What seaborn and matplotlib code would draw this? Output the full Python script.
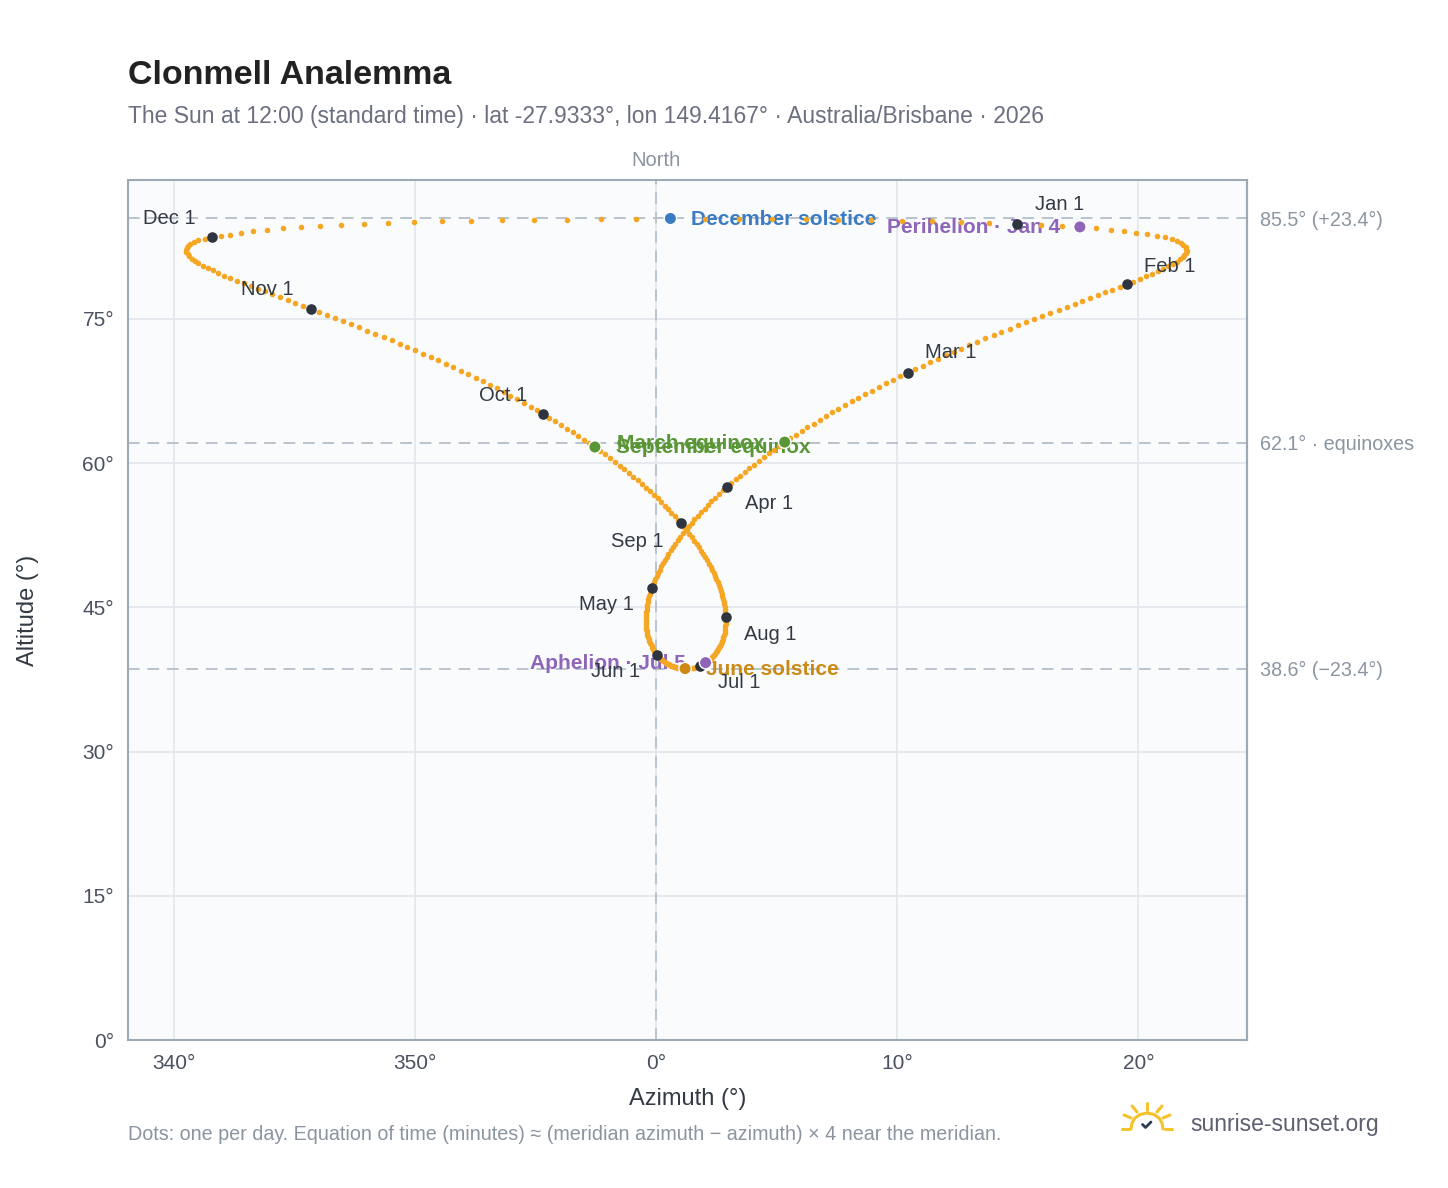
import pandas as pd
import matplotlib
matplotlib.use("Agg")
import matplotlib.pyplot as plt
import seaborn as sns

# Sun position at 12:00 standard time, one value per day.
# Azimuth as degrees east (+) / west (-) of north, altitude in degrees.
az_jan = [14.97, 15.97, 16.82, 17.57, 18.24, 18.86, 19.41, 19.91, 20.37, 20.77, 21.11, 21.38, 21.59, 21.75, 21.86, 21.95,
          21.99, 22.00, 21.97, 21.90, 21.83, 21.73, 21.60, 21.44, 21.24, 21.03, 20.81, 20.57, 20.32, 20.06, 19.79]
alt_jan = [84.92, 84.82, 84.70, 84.57, 84.43, 84.29, 84.14, 83.98, 83.82, 83.66, 83.49, 83.31, 83.12, 82.93, 82.73, 82.52,
           82.31, 82.10, 81.88, 81.66, 81.43, 81.20, 80.96, 80.72, 80.47, 80.22, 79.96, 79.70, 79.43, 79.16, 78.88]
az_feb = [19.51, 19.22, 18.92, 18.62, 18.31, 17.99, 17.67, 17.35, 17.03, 16.69, 16.35, 16.01, 15.68, 15.34, 15.00, 14.66,
          14.32, 13.99, 13.65, 13.32, 12.99, 12.66, 12.33, 12.00, 11.69, 11.37, 11.06, 10.74]
alt_feb = [78.60, 78.32, 78.04, 77.75, 77.45, 77.15, 76.85, 76.55, 76.25, 75.93, 75.61, 75.29, 74.97, 74.65, 74.32, 73.99,
           73.65, 73.31, 72.97, 72.62, 72.27, 71.92, 71.57, 71.22, 70.86, 70.50, 70.14, 69.77]
az_mar = [10.43, 10.13, 9.83, 9.53, 9.24, 8.94, 8.66, 8.38, 8.11, 7.83, 7.55, 7.29, 7.04, 6.78, 6.53, 6.27,
          6.03, 5.80, 5.56, 5.33, 5.09, 4.88, 4.67, 4.46, 4.25, 4.04, 3.85, 3.67, 3.48, 3.30, 3.11]
alt_mar = [69.41, 69.04, 68.67, 68.29, 67.92, 67.55, 67.17, 66.79, 66.42, 66.04, 65.66, 65.28, 64.89, 64.51, 64.12, 63.74,
           63.35, 62.96, 62.58, 62.19, 61.80, 61.41, 61.02, 60.63, 60.24, 59.85, 59.46, 59.08, 58.69, 58.31, 57.92]
az_apr = [2.95, 2.78, 2.62, 2.45, 2.29, 2.15, 2.01, 1.87, 1.73, 1.59, 1.47, 1.35, 1.24, 1.12, 1.00,
          0.90, 0.80, 0.71, 0.61, 0.51, 0.44, 0.36, 0.29, 0.21, 0.14, 0.08, 0.03, -0.03, -0.08, -0.14]
alt_apr = [57.54, 57.16, 56.78, 56.40, 56.02, 55.65, 55.27, 54.90, 54.52, 54.15, 53.79, 53.43, 53.06, 52.70, 52.34,
           51.99, 51.64, 51.29, 50.94, 50.59, 50.26, 49.92, 49.59, 49.25, 48.92, 48.60, 48.28, 47.97, 47.65, 47.33]
az_may = [-0.18, -0.22, -0.25, -0.29, -0.32, -0.34, -0.36, -0.38, -0.40, -0.41, -0.42, -0.43, -0.43, -0.43, -0.43, -0.42,
          -0.41, -0.39, -0.38, -0.36, -0.34, -0.31, -0.28, -0.26, -0.23, -0.19, -0.16, -0.12, -0.09, -0.05, 0.00]
alt_may = [47.03, 46.73, 46.44, 46.14, 45.84, 45.57, 45.29, 45.02, 44.74, 44.47, 44.22, 43.97, 43.72, 43.47, 43.22, 43.00,
           42.78, 42.55, 42.33, 42.11, 41.92, 41.72, 41.53, 41.33, 41.14, 40.97, 40.81, 40.64, 40.48, 40.31, 40.18]
az_jun = [0.05, 0.09, 0.14, 0.19, 0.24, 0.30, 0.35, 0.41, 0.46, 0.52, 0.58, 0.63, 0.69, 0.75, 0.81,
          0.88, 0.94, 1.01, 1.07, 1.13, 1.20, 1.26, 1.33, 1.39, 1.45, 1.51, 1.58, 1.64, 1.70, 1.76]
alt_jun = [40.05, 39.91, 39.78, 39.65, 39.55, 39.45, 39.35, 39.25, 39.15, 39.08, 39.01, 38.94, 38.88, 38.81, 38.77,
           38.73, 38.70, 38.67, 38.64, 38.63, 38.63, 38.63, 38.64, 38.65, 38.67, 38.70, 38.73, 38.77, 38.82, 38.87]
az_jul = [1.82, 1.88, 1.94, 2.00, 2.05, 2.11, 2.16, 2.22, 2.27, 2.32, 2.36, 2.41, 2.45, 2.50, 2.54, 2.57,
          2.61, 2.64, 2.68, 2.71, 2.74, 2.76, 2.79, 2.82, 2.84, 2.85, 2.86, 2.87, 2.88, 2.89, 2.89]
alt_jul = [38.93, 39.00, 39.08, 39.16, 39.25, 39.35, 39.45, 39.56, 39.67, 39.80, 39.93, 40.07, 40.20, 40.34, 40.50, 40.67,
           40.83, 41.00, 41.16, 41.35, 41.55, 41.74, 41.94, 42.13, 42.35, 42.57, 42.80, 43.02, 43.24, 43.49, 43.74]
az_aug = [2.89, 2.88, 2.87, 2.86, 2.84, 2.82, 2.80, 2.78, 2.75, 2.71, 2.68, 2.64, 2.60, 2.55, 2.49, 2.44,
          2.38, 2.33, 2.26, 2.18, 2.11, 2.03, 1.96, 1.87, 1.77, 1.68, 1.58, 1.49, 1.37, 1.26, 1.14]
alt_aug = [43.98, 44.23, 44.48, 44.75, 45.02, 45.30, 45.57, 45.85, 46.15, 46.44, 46.74, 47.03, 47.33, 47.64, 47.96, 48.27,
           48.59, 48.90, 49.23, 49.56, 49.90, 50.23, 50.56, 50.91, 51.26, 51.60, 51.95, 52.30, 52.66, 53.02, 53.38]
az_sep = [1.03, 0.91, 0.77, 0.63, 0.50, 0.36, 0.22, 0.06, -0.10, -0.27, -0.43, -0.59, -0.77, -0.95, -1.14,
          -1.32, -1.50, -1.71, -1.92, -2.12, -2.33, -2.54, -2.77, -3.00, -3.22, -3.45, -3.68, -3.93, -4.18, -4.43]
alt_sep = [53.74, 54.10, 54.47, 54.84, 55.21, 55.58, 55.95, 56.33, 56.71, 57.08, 57.46, 57.84, 58.22, 58.60, 58.99,
           59.37, 59.75, 60.14, 60.52, 60.91, 61.29, 61.68, 62.06, 62.44, 62.83, 63.21, 63.59, 63.97, 64.36, 64.74]
az_oct = [-4.69, -4.94, -5.21, -5.49, -5.76, -6.04, -6.31, -6.61, -6.90, -7.20, -7.49, -7.79, -8.10, -8.41, -8.72, -9.03,
          -9.34, -9.67, -9.99, -10.32, -10.64, -10.97, -11.30, -11.64, -11.97, -12.31, -12.64, -12.98, -13.31, -13.65, -13.98]
alt_oct = [65.13, 65.51, 65.89, 66.27, 66.64, 67.02, 67.40, 67.77, 68.14, 68.51, 68.88, 69.25, 69.61, 69.97, 70.33, 70.69,
           71.05, 71.40, 71.75, 72.09, 72.44, 72.79, 73.12, 73.46, 73.79, 74.13, 74.46, 74.78, 75.11, 75.43, 75.75]
az_nov = [-14.32, -14.64, -14.96, -15.28, -15.60, -15.92, -16.23, -16.53, -16.82, -17.11, -17.39, -17.66, -17.91, -18.15, -18.38,
          -18.59, -18.80, -18.98, -19.13, -19.26, -19.36, -19.43, -19.48, -19.50, -19.47, -19.41, -19.31, -19.17, -18.99, -18.72]
alt_nov = [76.07, 76.37, 76.67, 76.97, 77.27, 77.57, 77.86, 78.14, 78.43, 78.71, 78.99, 79.25, 79.51, 79.78, 80.04,
           80.30, 80.54, 80.78, 81.02, 81.26, 81.50, 81.72, 81.94, 82.15, 82.37, 82.58, 82.78, 82.97, 83.16, 83.35]
az_dec = [-18.40, -18.05, -17.68, -17.21, -16.71, -16.12, -15.47, -14.73, -13.93, -13.06, -12.13, -11.11, -10.03, -8.88, -7.67, -6.40,
          -5.07, -3.68, -2.27, -0.84, 0.59, 2.01, 3.42, 4.82, 6.20, 7.56, 8.89, 10.18, 11.44, 12.65, 13.80]
alt_dec = [83.47, 83.61, 83.78, 83.96, 84.10, 84.27, 84.41, 84.54, 84.65, 84.79, 84.90, 85.00, 85.06, 85.14, 85.21, 85.27,
           85.31, 85.34, 85.37, 85.42, 85.45, 85.44, 85.43, 85.41, 85.38, 85.34, 85.29, 85.22, 85.15, 85.06, 84.97]

month_names = ["Jan", "Feb", "Mar", "Apr", "May", "Jun", "Jul", "Aug", "Sep", "Oct", "Nov", "Dec"]
az_by_month = [az_jan, az_feb, az_mar, az_apr, az_may, az_jun, az_jul, az_aug, az_sep, az_oct, az_nov, az_dec]
alt_by_month = [alt_jan, alt_feb, alt_mar, alt_apr, alt_may, alt_jun, alt_jul, alt_aug, alt_sep, alt_oct, alt_nov, alt_dec]

# events marked on the curve
event_names = ["December solstice", "Perihelion · Jan 4", "March equinox",
               "September equinox", "Aphelion · Jul 5", "June solstice"]
event_month = ["Dec", "Jan", "Mar", "Sep", "Jul", "Jun"]
event_day = [21, 4, 20, 22, 5, 21]

# reference altitudes on the right edge
ref_alt = [85.5, 62.1, 38.6]
ref_labels = ["85.5° (+23.4°)", "62.1° · equinoxes", "38.6° (\u221223.4°)"]

az_ticks = [-20, -10, 0, 10, 20]
az_tick_labels = ["340°", "350°", "0°", "10°", "20°"]
alt_ticks = [0, 15, 30, 45, 60, 75]

# label placement (pixels from the marker)
month_dx = [18, 17, 17, 18, -18, -17, 18, 18, -17, -16, -17, -17]
month_dy = [19, 18, 20, -17, -17, -17, -17, -17, -18, 18, 19, 19]
event_side = ["right", "left", "left", "right", "left", "right"]
event_colors = ["#3a7bc4", "#8e65b9", "#5a9636", "#5a9636", "#8e65b9", "#cc8a15"]

rows = []
for name, azs, alts in zip(month_names, az_by_month, alt_by_month):
    for day, (a, h) in enumerate(zip(azs, alts), start=1):
        rows.append({"month": name, "day": day, "az": a, "alt": h})
days = pd.DataFrame(rows)
firsts = days[days["day"] == 1]

events = []
for name, m, d in zip(event_names, event_month, event_day):
    hit = days[(days["month"] == m) & (days["day"] == d)].iloc[0]
    events.append({"event": name, "az": hit["az"], "alt": hit["alt"]})
events = pd.DataFrame(events)

sns.set_theme(style="white")
plt.rcParams["font.family"] = ["Liberation Sans", "DejaVu Sans"]

W, H = 1448, 1188
fig = plt.figure(figsize=(W / 100, H / 100), dpi=100)
fig.patch.set_facecolor("white")
ax = fig.add_axes([128 / W, 1 - 1040 / H, (1247 - 128) / W, (1040 - 180) / H])
ax.set_facecolor("#f9fbfd")

ax.set_xlim(-21.9, 24.5)
ax.set_ylim(0, 89.45)
ax.set_axisbelow(True)
ax.grid(True, color="#e5e9ef", linewidth=1.3)

for y in ref_alt:
    ax.axhline(y, color="#b9c3cd", linewidth=1.4, dashes=(6, 4), zorder=1)
ax.axvline(0, color="#b9c3cd", linewidth=1.4, dashes=(6, 4), zorder=1)

sns.scatterplot(data=days, x="az", y="alt", color="#f5a623", s=16, linewidth=0, ax=ax, zorder=3, legend=False)
sns.scatterplot(data=firsts, x="az", y="alt", color="#2f3540", s=58, linewidth=0, ax=ax, zorder=4, legend=False)
sns.scatterplot(data=events, x="az", y="alt", hue="event", palette=dict(zip(event_names, event_colors)),
                s=80, edgecolor="white", linewidth=1, ax=ax, zorder=5, legend=False)

for (_, r), dx, dy in zip(firsts.iterrows(), month_dx, month_dy):
    ax.annotate(f"{r['month']} 1", (r["az"], r["alt"]), xytext=(dx, dy), textcoords="offset pixels",
                ha="left" if dx > 0 else "right", va="center", fontsize=14.5, color="#333a44", zorder=6)

for (_, r), side, col in zip(events.iterrows(), event_side, event_colors):
    dx = 21 if side == "right" else -20
    ax.annotate(r["event"], (r["az"], r["alt"]), xytext=(dx, -1), textcoords="offset pixels",
                ha="left" if side == "right" else "right", va="center", fontsize=15,
                fontweight="bold", color=col, zorder=2)

ax.set_xticks(az_ticks, labels=az_tick_labels)
ax.set_yticks(alt_ticks, labels=[f"{t}°" for t in alt_ticks])
ax.tick_params(axis="both", length=0, pad=10, labelsize=15, labelcolor="#4b5160")

for sp in ax.spines.values():
    sp.set_color("#9ea9b6")
    sp.set_linewidth(1.5)

sec = ax.secondary_yaxis("right")
sec.set_yticks(ref_alt, labels=ref_labels)
sec.tick_params(direction="in", length=3, color="#9ea9b6", pad=9, labelsize=14.2, labelcolor="#8b95a1")
sec.spines["right"].set_color("#9ea9b6")
sec.spines["right"].set_linewidth(1.5)

ax.set_xlabel("Azimuth (°)", fontsize=17, color="#333a44")
ax.set_ylabel("Altitude (°)", fontsize=17, color="#333a44")
ax.xaxis.set_label_coords(0.5, -(1088 - 1040) / 860)
ax.yaxis.set_label_coords((39 - 128) / 1119, 0.5)

ax.annotate("North", xy=(0, 1), xycoords=("data", "axes fraction"), xytext=(0, 10), textcoords="offset pixels",
            ha="center", va="bottom", fontsize=14.5, color="#8b95a1")

fig.text(128 / W, 1 - 75 / H, "Clonmell Analemma", fontsize=24.5, fontweight="bold", color="#222222", va="center")
fig.text(128 / W, 1 - 117 / H,
         "The Sun at 12:00 (standard time) · lat -27.9333°, lon 149.4167° · Australia/Brisbane · 2026",
         fontsize=16.5, color="#6b6f80", va="center")
fig.text(128 / W, 1 - 1134 / H,
         "Dots: one per day. Equation of time (minutes) \u2248 (meridian azimuth \u2212 azimuth) \u00d7 4 near the meridian.",
         fontsize=14.2, color="#8b95a1", va="center")

# sunrise-sunset.org mark
logo = fig.add_axes([1115 / W, 1 - 1138 / H, 65 / W, 40 / H])
logo.set_xlim(1115, 1180)
logo.set_ylim(1138, 1098)
logo.axis("off")
sun = "#f6c22a"
arc_x = [1131, 1132, 1135, 1140, 1147, 1154, 1159, 1162, 1163]
arc_y = [1129, 1123, 1118, 1114.5, 1113, 1114.5, 1118, 1123, 1129]
logo.plot(arc_x, arc_y, color=sun, lw=2.2, solid_capstyle="round")
logo.plot([1122, 1129], [1129, 1129], color=sun, lw=2.2, solid_capstyle="round")
logo.plot([1165, 1172], [1129, 1129], color=sun, lw=2.2, solid_capstyle="round")
for x0, y0, x1, y1 in [(1147, 1110, 1147, 1103), (1137, 1112, 1132, 1106), (1157, 1112, 1162, 1106),
                       (1131, 1118, 1124, 1115), (1163, 1118, 1170, 1115)]:
    logo.plot([x0, x1], [y0, y1], color=sun, lw=2.2, solid_capstyle="round")
logo.plot([1142.5, 1145.5, 1151], [1124.5, 1127.5, 1122], color="#2c3e55", lw=2.0, solid_capstyle="round")
fig.text(1190 / W, 1 - 1125 / H, "sunrise-sunset.org", fontsize=16.5, color="#5c6070", va="center")

fig.savefig("out.png", dpi=100)
